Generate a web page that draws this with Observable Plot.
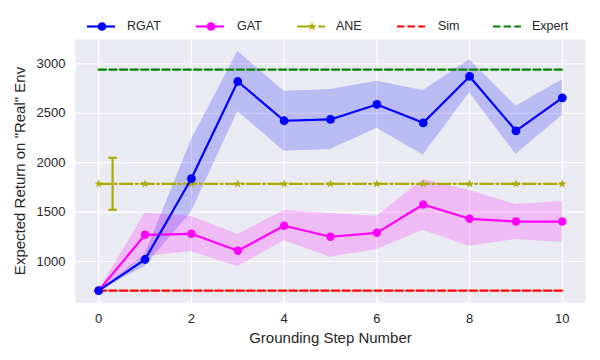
<!DOCTYPE html>
<html><head><meta charset="utf-8">
<script src="https://cdn.jsdelivr.net/npm/d3@7"></script>
<script src="https://cdn.jsdelivr.net/npm/@observablehq/plot@0.6"></script>
<style>
body{margin:0;background:#fff;font-family:"Liberation Sans",Arial,sans-serif;}
#legend{position:relative;height:34px;width:600px;}
.item{position:absolute;top:17px;height:20px;font-size:12.5px;color:#262626;}
.item svg{position:absolute;top:0;left:0;}
.item span{position:absolute;top:2px;white-space:nowrap;}
#chart svg{display:block;}
</style></head><body>
<div id="legend"></div>
<div id="chart"></div>
<script>
// ---- data ----
const steps = [0,1,2,3,4,5,6,7,8,9,10];
const rgatMean = [705,1020,1839,2821,2424,2437,2589,2403,2872,2322,2656];
const rgatLow  = [705,950,1500,2518,2116,2133,2348,2078,2707,2085,2477];
const rgatHigh = [705,1070,2230,3124,2723,2740,2824,2730,3040,2571,2838];
const gatMean  = [705,1270,1280,1108,1361,1250,1290,1576,1432,1404,1404];
const gatLow   = [705,1050,1100,946,1209,1044,1121,1313,1155,1222,1192];
const gatHigh  = [705,1489,1458,1273,1517,1485,1458,1829,1718,1576,1607];
const aneValue = 1786;
const aneErrStep = 0.3;
const aneErrLow = 1523;
const aneErrHigh = 2049;
const simValue = 705;
const expertValue = 2942;
const xTicks = [0,2,4,6,8,10];
const yTicks = [1000,1500,2000,2500,3000];
const seriesNames = ["RGAT","GAT","ANE","Sim","Expert"];

// ---- styles ----
const C = {RGAT:"#0000ff", GAT:"#ff00ff", ANE:"#aaaa00", Sim:"#ff0000", Expert:"#008000"};
const dashed = "7.4 3.2", dashDot = "12.8 3.2 2 3.2";
const LW = 2.2;

const rows = steps.map((s,i)=>({step:s, rgat:rgatMean[i], rgatLo:rgatLow[i], rgatHi:rgatHigh[i],
  gat:gatMean[i], gatLo:gatLow[i], gatHi:gatHigh[i], ane:aneValue, sim:simValue, expert:expertValue}));
const errRows = [{step:aneErrStep, lo:aneErrLow, hi:aneErrHigh}];
const capSymbol = {draw(ctx, size){ const r = Math.sqrt(size/Math.PI); ctx.moveTo(-r,0); ctx.lineTo(r,0); }};

const chart = Plot.plot({
  width:600, height:326, marginTop:5, marginBottom:58, marginLeft:75, marginRight:15,
  style:{fontFamily:"Liberation Sans, Arial, sans-serif", fontSize:"13px", color:"#262626", background:"transparent", overflow:"visible"},
  x:{domain:[-0.5,10.5]},
  y:{domain:[585,3246]},
  marks:[
    Plot.frame({fill:"#eaeaf2", stroke:null}),
    Plot.gridX(xTicks,{stroke:"#fff", strokeOpacity:1, strokeWidth:1.2}),
    Plot.gridY(yTicks,{stroke:"#fff", strokeOpacity:1, strokeWidth:1.2}),
    Plot.axisX(xTicks,{tickSize:0, tickPadding:11, label:null, tickFormat:"d", fontSize:13, fill:"#262626"}),
    Plot.axisY(yTicks,{tickSize:0, tickPadding:10, label:null, tickFormat:"d", fontSize:13, fill:"#262626"}),
    Plot.areaY(rows,{x:"step", y1:"rgatLo", y2:"rgatHi", fill:C.RGAT, fillOpacity:0.2}),
    Plot.areaY(rows,{x:"step", y1:"gatLo", y2:"gatHi", fill:C.GAT, fillOpacity:0.2}),
    Plot.lineY(rows,{x:"step", y:"sim", stroke:C.Sim, strokeWidth:LW, strokeDasharray:dashed}),
    Plot.lineY(rows,{x:"step", y:"expert", stroke:C.Expert, strokeWidth:LW, strokeDasharray:dashed}),
    Plot.lineY(rows,{x:"step", y:"ane", stroke:C.ANE, strokeWidth:LW, strokeDasharray:dashDot}),
    Plot.dot(rows,{x:"step", y:"ane", symbol:"star", r:2.7, fill:C.ANE, stroke:null}),
    Plot.ruleX(errRows,{x:"step", y1:"lo", y2:"hi", stroke:C.ANE, strokeWidth:LW}),
    Plot.dot(errRows,{x:"step", y:"lo", symbol:capSymbol, r:4.2, stroke:C.ANE, strokeWidth:LW, fill:"none"}),
    Plot.dot(errRows,{x:"step", y:"hi", symbol:capSymbol, r:4.2, stroke:C.ANE, strokeWidth:LW, fill:"none"}),
    Plot.lineY(rows,{x:"step", y:"gat", stroke:C.GAT, strokeWidth:LW}),
    Plot.dot(rows,{x:"step", y:"gat", r:4.2, fill:C.GAT, stroke:null}),
    Plot.lineY(rows,{x:"step", y:"rgat", stroke:C.RGAT, strokeWidth:LW}),
    Plot.dot(rows,{x:"step", y:"rgat", r:4.4, fill:C.RGAT, stroke:null}),
    Plot.text(["Grounding Step Number"],{frameAnchor:"bottom", dy:36, lineAnchor:"middle", textAnchor:"middle", fontSize:15, fill:"#262626"}),
    Plot.text(['Expected Return on "Real" Env'],{frameAnchor:"left", dx:-55, rotate:-90, lineAnchor:"middle", textAnchor:"middle", fontSize:15, fill:"#262626"})
  ]
});
document.getElementById("chart").appendChild(chart);

// ---- legend ----
const legendPos = {RGAT:[87,127], GAT:[196,237], ANE:[297,336], Sim:[397,438], Expert:[493,532]};
const legend = d3.select("#legend");
const starPath = d3.symbol(d3.symbolStar, 2.9*2.9*Math.PI)();
seriesNames.forEach(name=>{
  const [lx, tx] = legendPos[name];
  const it = legend.append("div").attr("class","item").style("left", lx+"px");
  const svg = it.append("svg").attr("width",30).attr("height",20);
  const dash = name==="Sim"||name==="Expert" ? dashed : name==="ANE" ? dashDot : null;
  svg.append("line").attr("x1",0).attr("x2",28).attr("y1",9.5).attr("y2",9.5)
    .attr("stroke",C[name]).attr("stroke-width",LW).attr("stroke-dasharray",dash);
  if (name==="RGAT"||name==="GAT") svg.append("circle").attr("cx",15).attr("cy",9.5).attr("r",4.3).attr("fill",C[name]);
  if (name==="ANE") svg.append("path").attr("d",starPath).attr("transform","translate(15,9.5)").attr("fill",C[name]);
  it.append("span").style("left",(tx-lx)+"px").text(name);
});
</script>
</body></html>
